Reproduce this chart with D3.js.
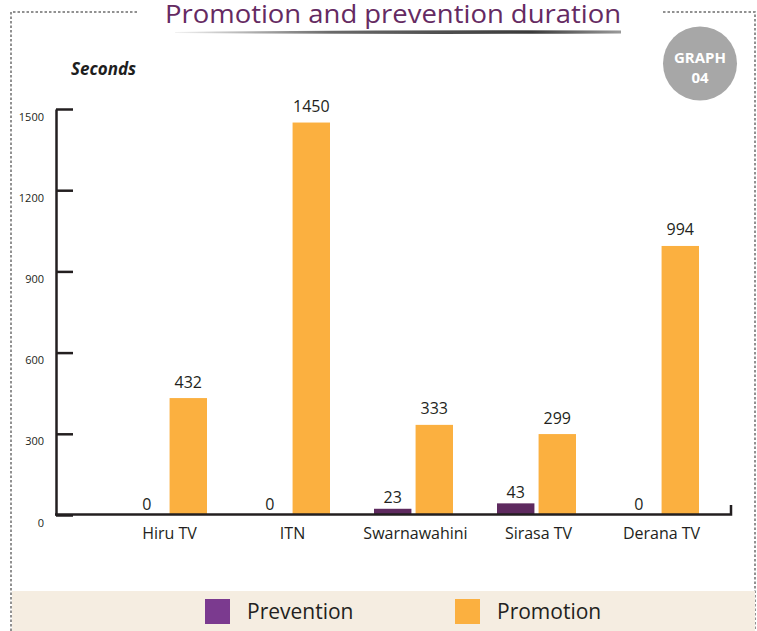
<!DOCTYPE html>
<html>
<head>
<meta charset="utf-8">
<script src="https://cdn.jsdelivr.net/npm/d3@7.9.0/dist/d3.min.js"></script>
<style>
  html, body { margin: 0; padding: 0; background: #fff; }
  svg { display: block; font-family: 'Open Sans', sans-serif; }
</style>
</head>
<body>
<svg id="chart" width="757" height="631"></svg>
<script>
const channels = ['Hiru TV', 'ITN', 'Swarnawahini', 'Sirasa TV', 'Derana TV'];
const series = ['Prevention', 'Promotion'];
const prevention = [0, 0, 23, 43, 0];
const promotion = [432, 1450, 333, 299, 994];
const yTicks = [0, 300, 600, 900, 1200, 1500];

const barColors = { Prevention: '#5e2a5f', Promotion: '#fbb040' };
const legendColors = { Prevention: '#7b3a8f', Promotion: '#fbb040' };

const svg = d3.select('#chart');

// dotted frame
const frame = svg.append('g')
    .attr('fill', 'none')
    .attr('stroke', '#6d6d6d')
    .attr('stroke-width', 1.5)
    .attr('stroke-dasharray', '2.5,2');
frame.append('path').attr('d', 'M137,12 H11 V631');
frame.append('path').attr('d', 'M663,12 H755 V631');

// legend band
svg.append('rect')
    .attr('x', 12).attr('y', 591)
    .attr('width', 743).attr('height', 40)
    .attr('fill', '#f5ede1');

// title
svg.append('text')
    .attr('x', 393).attr('y', 23)
    .attr('text-anchor', 'middle')
    .attr('fill', '#652a62')
    .attr('font-size', 26)
    .attr('textLength', 456)
    .attr('lengthAdjust', 'spacingAndGlyphs')
    .text('Promotion and prevention duration');

const defs = svg.append('defs');
const grad = defs.append('linearGradient').attr('id', 'rule');
[['0%', '#f2f2f2'], ['35%', '#6a6a6a'], ['80%', '#3a3a3a'], ['100%', '#9a9a9a']].forEach(([o, c]) => {
    grad.append('stop').attr('offset', o).attr('stop-color', c);
});
svg.append('path')
    .attr('d', 'M175,32 Q400,29.5 621,30.5 L621,33.5 Q400,34.5 175,33 Z')
    .attr('fill', 'url(#rule)');

// graph badge
svg.append('circle')
    .attr('cx', 700).attr('cy', 63.5).attr('r', 37)
    .attr('fill', '#a7a7a7');
svg.append('text')
    .attr('x', 700).attr('y', 62.5)
    .attr('text-anchor', 'middle')
    .attr('fill', '#fff')
    .attr('font-weight', 'bold')
    .attr('font-size', 15)
    .text('GRAPH');
svg.append('text')
    .attr('x', 700).attr('y', 83)
    .attr('text-anchor', 'middle')
    .attr('fill', '#fff')
    .attr('font-weight', 'bold')
    .attr('font-size', 15)
    .text('04');

svg.append('text')
    .attr('x', 71).attr('y', 75)
    .attr('font-size', 17)
    .attr('font-weight', 'bold')
    .attr('font-style', 'italic')
    .attr('fill', '#1e1e1e')
    .text('Seconds');

// scales
const x0 = d3.scaleBand().domain(channels).range([106, 721]);
const x1 = d3.scaleBand().domain(series).range([22, 101]).paddingInner(0.1);
const y = d3.scaleLinear().domain([0, 1500]).range([515, 109]);

// y axis
const yAxis = svg.append('g')
    .attr('transform', 'translate(56,0)')
    .call(d3.axisLeft(y).tickValues(yTicks).tickFormat(d3.format('d'))
        .tickSizeInner(-17).tickSizeOuter(0).tickPadding(12));
yAxis.select('.domain').attr('stroke', '#231f20').attr('stroke-width', 2.5);
yAxis.selectAll('.tick line').attr('stroke', '#231f20').attr('stroke-width', 2.5);
yAxis.selectAll('.tick text')
    .attr('dy', '1em')
    .attr('fill', '#231f20')
    .attr('font-size', 11)
    .attr('font-family', "'Open Sans', sans-serif");

// bars
const rows = channels.map((c, i) => ({ channel: c, Prevention: prevention[i], Promotion: promotion[i] }));
const groups = svg.append('g').selectAll('g')
    .data(rows)
    .join('g')
    .attr('transform', (d) => `translate(${x0(d.channel)},0)`);

const cells = groups.selectAll('g')
    .data((d) => series.map((s) => ({ key: s, value: d[s] })))
    .join('g');

cells.append('rect')
    .attr('x', (d) => x1(d.key))
    .attr('y', (d) => y(d.value))
    .attr('width', x1.bandwidth())
    .attr('height', (d) => y(0) - y(d.value))
    .attr('fill', (d) => barColors[d.key]);

cells.append('text')
    .attr('x', (d) => x1(d.key) + x1.bandwidth() / 2)
    .attr('y', (d) => y(d.value) - (d.key === 'Promotion' ? 10.5 : 5.5))
    .attr('text-anchor', 'middle')
    .attr('fill', '#231f20')
    .attr('font-size', 16)
    .text((d) => d.value);

// x axis
svg.append('path')
    .attr('d', 'M55,514.5 H731 V505')
    .attr('fill', 'none')
    .attr('stroke', '#231f20')
    .attr('stroke-width', 2.5);

const xAxis = svg.append('g')
    .attr('transform', 'translate(2,515)')
    .call(d3.axisBottom(x0).tickSize(0).tickPadding(13));
xAxis.select('.domain').remove();
xAxis.selectAll('.tick text')
    .attr('fill', '#231f20')
    .attr('font-size', 16)
    .attr('font-family', "'Open Sans', sans-serif");

// legend
const legend = svg.append('g').selectAll('g')
    .data(series)
    .join('g')
    .attr('transform', (d, i) => `translate(${205 + i * 250},599)`);
legend.append('rect')
    .attr('width', 25).attr('height', 25)
    .attr('fill', (d) => legendColors[d]);
legend.append('text')
    .attr('x', 42).attr('y', 20)
    .attr('font-size', 21)
    .attr('fill', '#231f20')
    .text((d) => d);
</script>
</body>
</html>
